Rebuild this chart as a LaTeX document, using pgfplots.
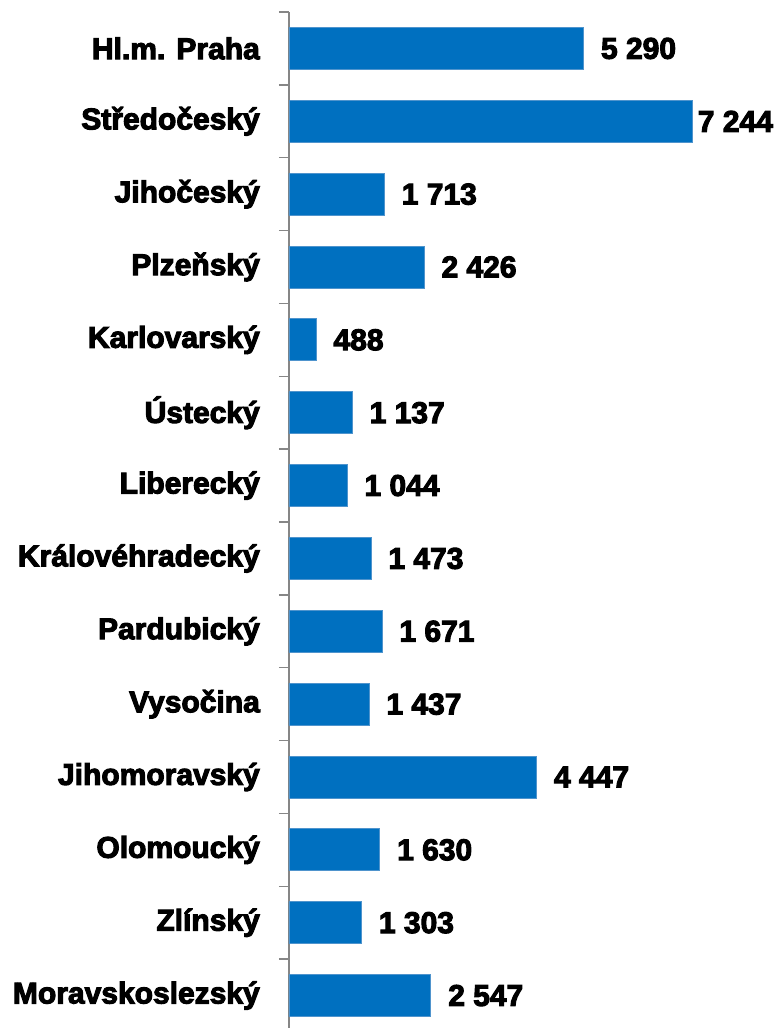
\documentclass[border=0pt]{standalone}
\usepackage{pgfplots}
\pgfplotsset{compat=1.18}
\usepackage{fontspec}
\setmainfont{Liberation Sans}
\newfontfamily\heavy{Liberation Sans Bold}[FakeBold=3.5]
\newcommand\labelfont{\heavy\fontsize{30}{32}\selectfont}

\definecolor{barblue}{HTML}{0070C0}
\definecolor{baredge}{HTML}{4F94CD}
\definecolor{axisgray}{HTML}{868686}

\begin{document}
\begin{tikzpicture}
\useasboundingbox (-289pt,4pt) rectangle (492pt,1032pt);
\begin{axis}[
    at={(0,0)}, anchor=south west,
    scale only axis, width=445.6pt, height=1020pt,
    xbar, bar width=42pt, bar shift=0pt,
    xmin=0, xmax=8000,
    ymin=0.5, ymax=14.5, y dir=reverse,
    hide x axis,
    axis y line*=left,
    y axis line style={draw=axisgray, line width=1.5pt},
    ytick={1,...,14},
    yticklabels={Hl.m. Praha, Středočeský, Jihočeský, Plzeňský, Karlovarský,
        Ústecký, Liberecký, Královéhradecký, Pardubický, Vysočina,
        Jihomoravský, Olomoucký, Zlínský, Moravskoslezský},
    major tick length=0pt,
    minor ytick={0.5,1.5,...,14.5},
    minor tick length=10pt,
    tick align=outside,
    minor tick style={draw=axisgray, line width=1.5pt},
    yticklabel style={font=\labelfont, anchor=east, inner sep=0pt, xshift=-29pt},
    point meta=x,
    nodes near coords,
    nodes near coords style={font=\labelfont, anchor=west, inner sep=0pt, xshift=17pt},
    /pgf/number format/assume math mode=true,
    /pgf/number format/1000 sep={\ },
    clip=false,
]
    % krajské hodnoty
    \addplot[fill=barblue, draw=baredge, line width=0.75pt] coordinates {
        (5290,1) (1713,3) (2426,4) (488,5) (1137,6) (1044,7) (1473,8)
        (1671,9) (1437,10) (4447,11) (1630,12) (1303,13) (2547,14)};
    % Středočeský - popisek blíž ke sloupci (posun se sčítá: 17-12 = 5)
    \addplot[fill=barblue, draw=baredge, line width=0.75pt,
        nodes near coords style={xshift=-12pt}] coordinates {(7244,2)};
\end{axis}
\end{tikzpicture}
\end{document}
